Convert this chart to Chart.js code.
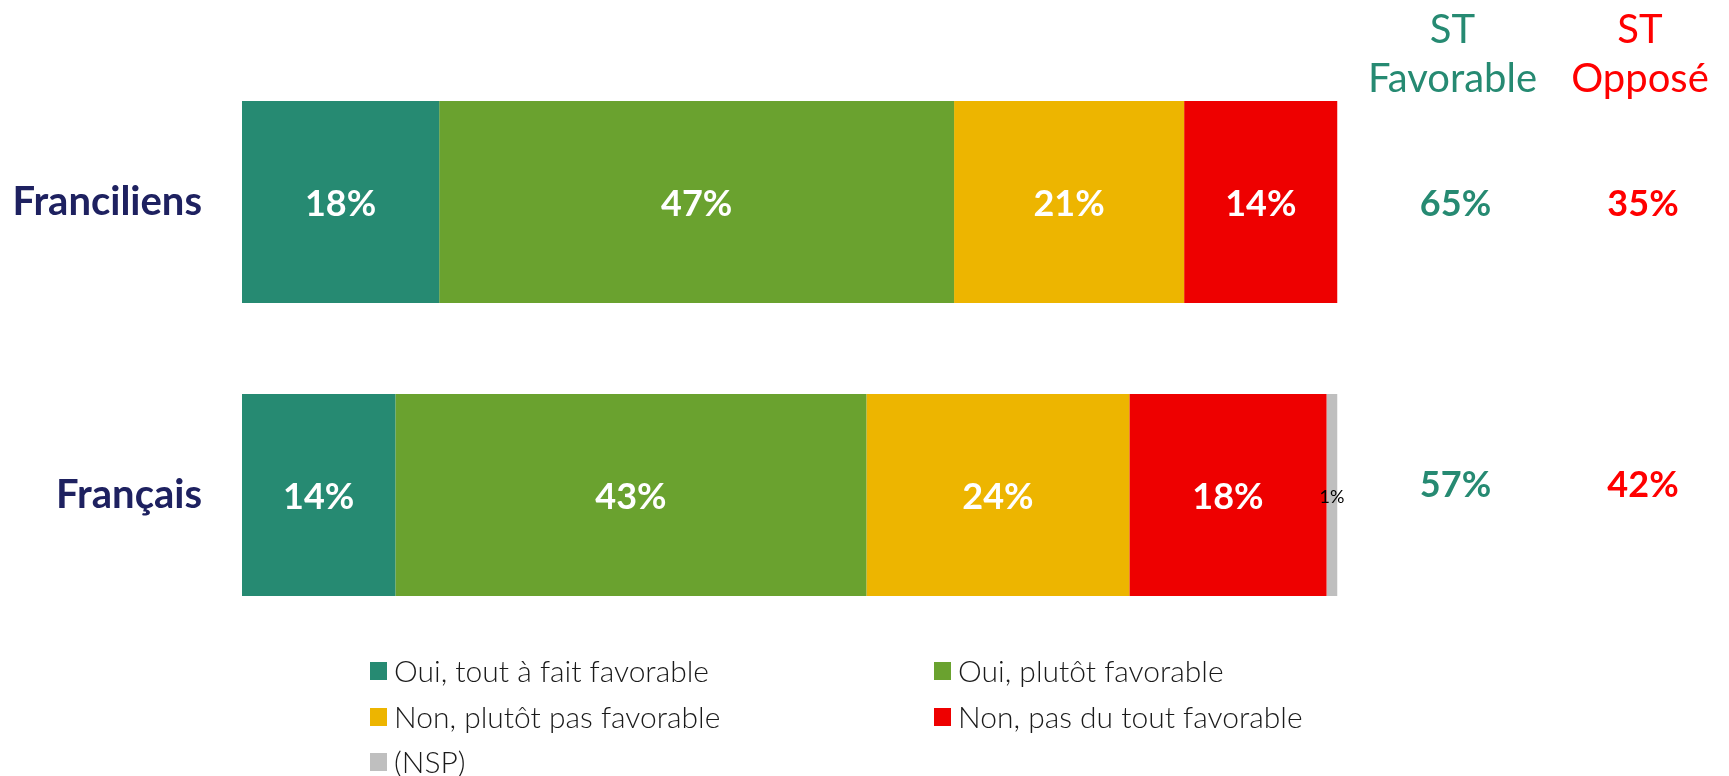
<!DOCTYPE html>
<html><head><meta charset="utf-8">
<script src="https://cdn.jsdelivr.net/npm/chart.js@4.4.0/dist/chart.umd.min.js"></script>
<style>html,body{margin:0;padding:0;background:#fff;} #wrap{position:relative;width:1729px;height:776px;}</style>
</head><body><div id="wrap"><canvas id="c" width="1729" height="776"></canvas></div>
<script>
const categories = ['Franciliens', 'Français'];
const seriesNames = ['Oui, tout à fait favorable', 'Oui, plutôt favorable', 'Non, plutôt pas favorable', 'Non, pas du tout favorable', '(NSP)'];
const toutAFaitFavorable = [18, 14];
const plutotFavorable = [47, 43];
const plutotPasFavorable = [21, 24];
const pasDuToutFavorable = [14, 18];
const nsp = [0, 1];
const stFavorable = [65, 57];
const stOppose = [35, 42];
const stHeaders = [['ST', 'Favorable'], ['ST', 'Opposé']];

const colors = ['#268A72', '#6AA22F', '#EDB500', '#EE0000', '#BFBFBF'];
const seriesValues = [toutAFaitFavorable, plutotFavorable, plutotPasFavorable, pasDuToutFavorable, nsp];

const datasets = seriesNames.map((n, i) => ({
  label: n,
  data: seriesValues[i],
  backgroundColor: colors[i],
  borderWidth: 0,
  barPercentage: 1,
  categoryPercentage: 0.6894
}));

const labelPlugin = {
  id: 'labels',
  afterDatasetsDraw(chart) {
    const ctx = chart.ctx;
    ctx.save();
    ctx.textAlign = 'center';
    ctx.textBaseline = 'middle';
    chart.data.datasets.forEach((ds, di) => {
      const meta = chart.getDatasetMeta(di);
      meta.data.forEach((bar, i) => {
        const v = ds.data[i];
        if (!v) return;
        const cx = (bar.x + bar.base) / 2;
        if (di === 4) {
          ctx.fillStyle = '#000';
          ctx.font = '18px Lato';
          ctx.fillText(v + '%', cx, bar.y + 2);
        } else {
          ctx.fillStyle = '#fff';
          ctx.font = 'bold 36px Lato';
          ctx.fillText(v + '%', cx, bar.y + 2);
        }
      });
    });
    // ST columns
    const area = chart.chartArea;
    const yS = chart.scales.y;
    const colX = [area.right + 118, area.right + 305.5];
    const colCol = ['#268A72', '#FF0000'];
    const stVals = [stFavorable, stOppose];
    const rowOff = [2, -10];
    colX.forEach((x, c) => {
      ctx.fillStyle = colCol[c];
      ctx.font = '40px Lato';
      ctx.fillText(stHeaders[c][0], x - 3, 30);
      ctx.fillText(stHeaders[c][1], x - 3, 79);
      ctx.font = 'bold 36px Lato';
      categories.forEach((cat, i) => {
        ctx.fillText(stVals[c][i] + '%', x, yS.getPixelForValue(i) + rowOff[i]);
      });
    });
    // legend grid
    const lx = [370, 934];
    const ly = [671, 717, 762];
    ctx.textAlign = 'left';
    ctx.font = '300 30px Lato';
    chart.data.datasets.forEach((ds, di) => {
      const x = lx[di % 2], y = ly[Math.floor(di / 2)];
      ctx.fillStyle = ds.backgroundColor;
      ctx.fillRect(x, y - 9, 17, 18);
      ctx.fillStyle = '#1A1A1A';
      ctx.fillText(ds.label, x + 24, y + 1);
    });
    ctx.restore();
  }
};

new Chart(document.getElementById('c'), {
  type: 'bar',
  data: { labels: categories, datasets },
  options: {
    responsive: false,
    animation: false,
    indexAxis: 'y',
    layout: { padding: { top: 55.5, bottom: 134.5, left: 0, right: 391.5 } },
    scales: {
      x: { stacked: true, min: 0, max: 100, display: false },
      y: {
        stacked: true,
        grid: { display: false, drawTicks: false },
        border: { display: false },
        ticks: { padding: 40, color: '#1E2160', font: { family: 'Lato', size: 40, weight: 'bold' } },
        afterFit(s) { s.width = 242; s.paddingTop = 0; s.paddingBottom = 0; }
      }
    },
    plugins: { legend: { display: false }, tooltip: { enabled: false } }
  },
  plugins: [labelPlugin]
});
</script></body></html>
